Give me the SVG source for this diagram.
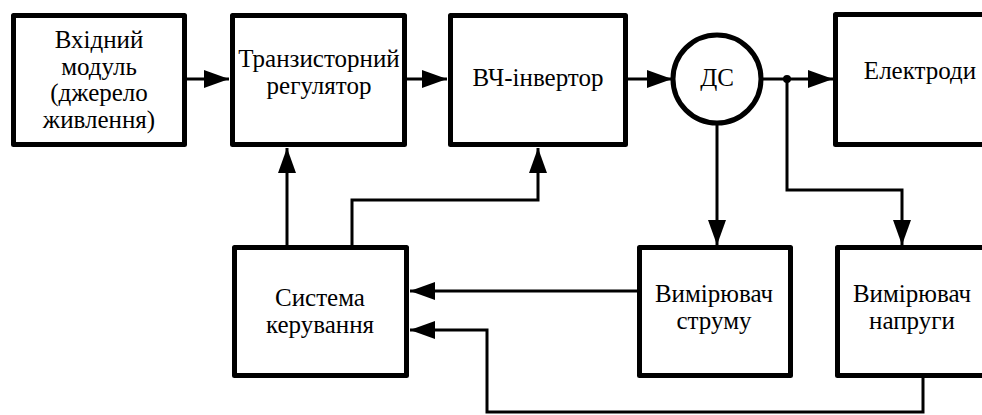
<svg xmlns="http://www.w3.org/2000/svg" width="982" height="415" viewBox="0 0 982 415">
<style>
.box{fill:#fff;stroke:#000;stroke-width:5;stroke-linejoin:round}
.ln{fill:none;stroke:#000;stroke-width:3}
</style>
<defs>
<marker id="ar" viewBox="0 0 25 18" refX="25" refY="9" markerWidth="25" markerHeight="18" markerUnits="userSpaceOnUse" orient="auto">
<path d="M0,0 L25,9 L0,18 Z" fill="#000"/>
</marker>
</defs>
<rect width="982" height="415" fill="#fff"/>
<g id="connectors">
<line class="ln" x1="187" y1="79" x2="229" y2="79" marker-end="url(#ar)"/>
<line class="ln" x1="407" y1="79" x2="447" y2="79" marker-end="url(#ar)"/>
<line class="ln" x1="628" y1="79" x2="672" y2="79" marker-end="url(#ar)"/>
<line class="ln" x1="762" y1="79" x2="833" y2="79" marker-end="url(#ar)"/>
<circle cx="787" cy="79" r="4" fill="#000"/>
<line class="ln" x1="717" y1="125" x2="717" y2="245" marker-end="url(#ar)"/>
<polyline class="ln" points="787,79 787,190 902,190 902,245" marker-end="url(#ar)"/>
<line class="ln" x1="637" y1="291" x2="410" y2="291" marker-end="url(#ar)"/>
<polyline class="ln" points="923,378 923,412 487,412 487,330 410,330" marker-end="url(#ar)"/>
<line class="ln" x1="287" y1="245" x2="287" y2="148" marker-end="url(#ar)"/>
<polyline class="ln" points="352,245 352,200 538,200 538,148" marker-end="url(#ar)"/>
</g>
<g id="input">
<rect class="box" x="13.5" y="15.5" width="171" height="129"/>
<text x="99" y="48" font-family="Times New Roman" font-size="25" text-anchor="middle">Вхідний</text>
<text x="99" y="75" font-family="Times New Roman" font-size="25" text-anchor="middle">модуль</text>
<text x="99" y="101" font-family="Times New Roman" font-size="25" text-anchor="middle">(джерело</text>
<text x="99" y="128" font-family="Times New Roman" font-size="25" text-anchor="middle">живлення)</text>
</g>
<g id="regulator">
<rect class="box" x="232.5" y="15.5" width="172" height="129"/>
<text x="319" y="67" font-family="Times New Roman" font-size="25" text-anchor="middle">Транзисторний</text>
<text x="319" y="94" font-family="Times New Roman" font-size="25" text-anchor="middle">регулятор</text>
</g>
<g id="inverter">
<rect class="box" x="450.5" y="15.5" width="175" height="129"/>
<text x="538" y="86" font-family="Times New Roman" font-size="25" text-anchor="middle">ВЧ-інвертор</text>
</g>
<g id="ds">
<circle cx="717" cy="79" r="44" fill="#fff" stroke="#000" stroke-width="5"/>
<text x="717" y="86" font-family="Times New Roman" font-size="25" text-anchor="middle">ДС</text>
</g>
<g id="electrodes">
<rect class="box" x="835.5" y="14.5" width="160" height="130"/>
<text x="920" y="79" font-family="Times New Roman" font-size="25" text-anchor="middle">Електроди</text>
</g>
<g id="control">
<rect class="box" x="234.5" y="247.5" width="172" height="128"/>
<text x="320" y="306" font-family="Times New Roman" font-size="25" text-anchor="middle">Система</text>
<text x="320" y="333" font-family="Times New Roman" font-size="25" text-anchor="middle">керування</text>
</g>
<g id="current">
<rect class="box" x="639.5" y="247.5" width="151" height="128"/>
<text x="714" y="302" font-family="Times New Roman" font-size="25" text-anchor="middle">Вимірювач</text>
<text x="714" y="329" font-family="Times New Roman" font-size="25" text-anchor="middle">струму</text>
</g>
<g id="voltage">
<rect class="box" x="837.5" y="247.5" width="160" height="128"/>
<text x="912" y="302" font-family="Times New Roman" font-size="25" text-anchor="middle">Вимірювач</text>
<text x="912" y="329" font-family="Times New Roman" font-size="25" text-anchor="middle">напруги</text>
</g>
</svg>
